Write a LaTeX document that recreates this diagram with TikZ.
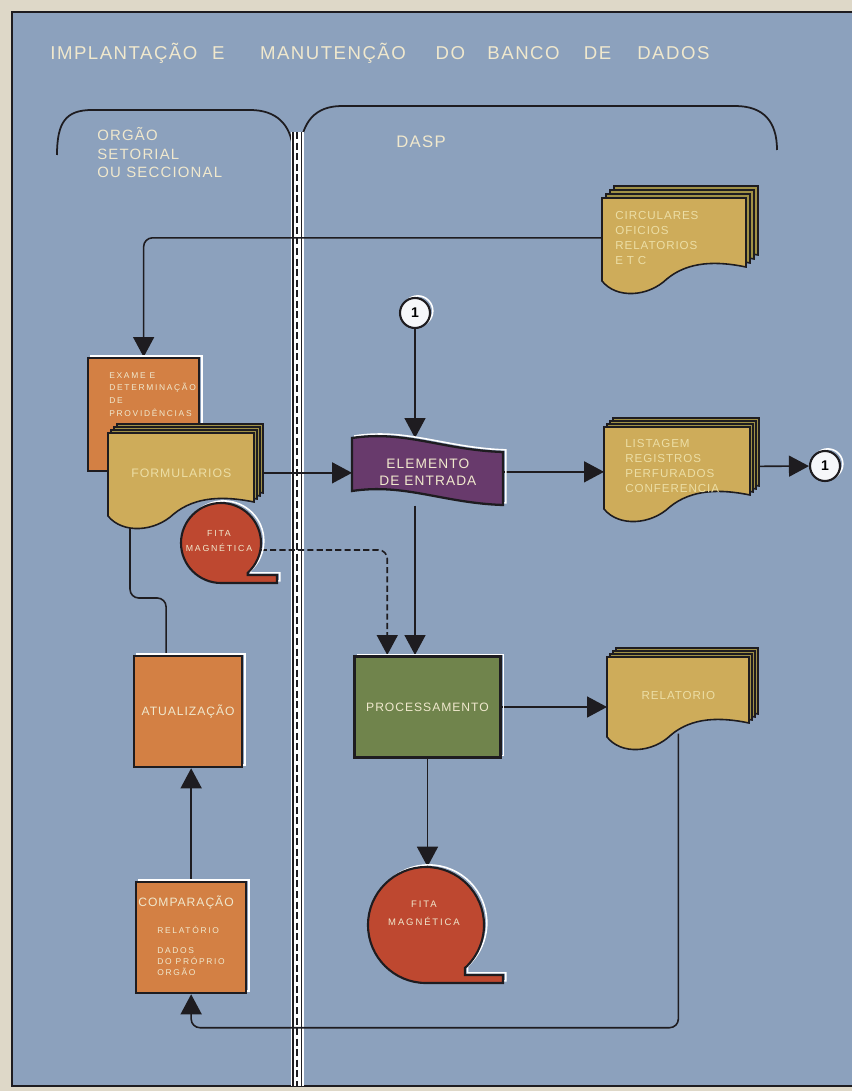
\documentclass[tikz,border=0pt]{standalone}
\usepackage{fontspec}
\setmainfont{Liberation Sans}
\newfontfamily\capfont[LetterSpace=8]{Liberation Sans}
\newfontfamily\widefont[LetterSpace=20]{Liberation Sans}
\usetikzlibrary{arrows.meta}
\usetikzlibrary{calc}
\usetikzlibrary{positioning}
\tikzset{>={Triangle[length=0.4cm,width=0.42cm]}}
\definecolor{paper}{RGB}{222,216,200}
\definecolor{panel}{RGB}{140,161,189}
\definecolor{ink}{RGB}{30,28,32}
\definecolor{cream}{RGB}{240,232,205}
\definecolor{doctext}{RGB}{236,222,165}
\definecolor{docfront}{RGB}{206,172,90}
\definecolor{docback}{RGB}{160,145,70}
\definecolor{boxorange}{RGB}{211,128,68}
\definecolor{procgreen}{RGB}{112,132,76}
\definecolor{entrypurple}{RGB}{104,58,108}
\definecolor{tapered}{RGB}{190,72,48}
\newcommand\pix{0.02cm}
\pgfdeclarelayer{panel}
\pgfdeclarelayer{wires}
\pgfsetlayers{panel,wires,main}
\tikzset{
  halo/.style={preaction={draw=white,line width=0.9pt,transform canvas={shift={(1.6pt,1.2pt)}}}},
  shapeline/.style={draw=ink,line width=1pt,halo},
  docline/.style={draw=ink,line width=0.9pt},
  flow/.style={draw=ink,line width=0.9pt,rounded corners=5pt},
  docnode/.style 2 args={minimum width=#1*\pix,minimum height=#2*\pix,inner sep=0pt,anchor=north west},
  doclabel/.style={text=doctext,font=\capfont\fontsize{6.6}{8.5}\selectfont,align=left},
  procbox/.style 2 args={shapeline,line width=1.3pt,minimum width=#1*\pix,minimum height=#2*\pix,
                         inner sep=0pt,anchor=north west,text=cream,font=\capfont\fontsize{6.9}{8}\selectfont},
  tapenode/.style={circle,minimum size=#1*\pix,inner sep=0pt},
  tapetext/.style={text=cream,align=center,inner sep=0pt,font=\widefont\fontsize{5}{9}\selectfont},
  onecirc/.style={circle,draw=ink,fill=white!92!panel,line width=1.2pt,minimum size=0.6cm,
                  inner sep=0pt,font=\bfseries\fontsize{8}{8}\selectfont,halo}
}
% document with wavy bottom: x, y, width, right height, fill
\newcommand\docshape[5]{
  \filldraw[docline,fill=#5] ({#1},{#2}) -- ({#1+#3},{#2}) -- ({#1+#3},{#2+#4})
    .. controls ({#1+0.8*#3},{#2+#4-6}) and ({#1+0.6*#3},{#2+#4-6}) .. ({#1+0.45*#3},{#2+#4+12})
    .. controls ({#1+0.32*#3},{#2+#4+30}) and ({#1+0.1*#3},{#2+#4+32}) .. ({#1},{#2+#4+14}) -- cycle;
}
% stack of three pages behind the front one: x, y, width, right height, step
\newcommand\docstack[5]{
  \foreach \k in {3,2,1}{\docshape{#1+#5*\k}{#2-#5*\k}{#3}{#4}{docback}}
  \docshape{#1}{#2}{#3}{#4}{docfront}
}
% punched tape: x, y, width, left height
\newcommand\tapeflag[4]{
  \filldraw[shapeline,line width=1.3pt,fill=entrypurple] ({#1},{#2})
    .. controls ({#1+0.35*#3},{#2-8}) and ({#1+0.6*#3},{#2+12}) .. ({#1+#3},{#2+14})
    -- ({#1+#3},{#2+14+#4})
    .. controls ({#1+0.6*#3},{#2+12+#4}) and ({#1+0.35*#3},{#2-8+#4}) .. ({#1},{#2+#4}) -- cycle;
}
% magnetic tape reel: centre x, centre y, radius, tail end x
\newcommand\tapereel[4]{
  \filldraw[shapeline,line width=1.2pt,fill=tapered] ({#1},{#2+#3}) arc[start angle=90,end angle=408,radius=#3]
    -- ({#1+#3*cos(48)},{#2+#3-8}) -- ({#4},{#2+#3-8}) -- ({#4},{#2+#3}) -- cycle;
}

\begin{document}
\begin{tikzpicture}[x=0.02cm,y=-0.02cm]
  \useasboundingbox (0,0) rectangle (852,1091);

  % SHEET
  \begin{pgfonlayer}{panel}
    \fill[paper] (0,0) rectangle (852,1091);
    \fill[panel] (12,12) rectangle (852,1086);
    \draw[ink,line width=1.2pt] (852,12) -- (12,12) -- (12,1086) -- (852,1086);
    % brackets over the two columns
    \draw[ink,line width=1pt] (57,155) .. controls (57,122) and (66,110) .. (92,110) -- (250,110)
      .. controls (276,110) and (291,124) .. (293,150);
    \draw[ink,line width=1pt] (300,150) .. controls (302,122) and (315,106) .. (342,106) -- (735,106)
      .. controls (764,106) and (777,122) .. (777,150);
    % divider
    \fill[white] (291,132) rectangle (304,1086);
    \draw[ink,line width=0.8pt] (293,132) -- (293,1086) (301.5,132) -- (301.5,1086);
    \draw[ink,line width=0.9pt,dash pattern=on 4pt off 2pt] (297.2,132) -- (297.2,1086);
  \end{pgfonlayer}

  % TITLES
  \node[anchor=base west,text=cream,font=\capfont\fontsize{10.6}{12}\selectfont,inner sep=0pt] (title) at (50,60)
    {IMPLANTAÇÃO\hspace{0.8em}E\hspace{1.9em}MANUTENÇÃO\hspace{1.6em}DO\hspace{1.2em}BANCO\hspace{1.3em}DE\hspace{1.4em}DADOS};
  \node[anchor=base west,align=left,text=cream,font=\capfont\fontsize{8.5}{10.8}\selectfont,inner sep=0pt] (orgao) at (97,178)
    {ORGÃO\\SETORIAL\\OU SECCIONAL};
  \node[anchor=base west,text=cream,font=\capfont\fontsize{9.5}{10}\selectfont,inner sep=0pt] (dasp) at (396,148) {DASP};

  % DOCUMENTS
  \docstack{602}{198}{144}{69}{4}
  \node[docnode={144}{79},doclabel,text width=2.36cm] (circ) at (602,198)
    {CIRCULARES\\OFICIOS\\RELATORIOS\\E T C};

  \node[procbox={111}{113},fill=boxorange] (exame) at (87,357) {};
  \node[anchor=base west,align=left,text=cream,inner sep=0pt,font=\widefont\fontsize{4.8}{7.2}\selectfont] (exame-text)
    at (109,416) {EXAME E\\DETERMINAÇÃO\\DE\\PROVIDÊNCIAS};

  \docstack{108}{433}{146}{69}{3}
  \node[docnode={146}{79},doclabel,font=\capfont\fontsize{7}{8.5}\selectfont] (form) at (108,433) {FORMULARIOS};

  \tapereel{221}{543}{40}{277}
  \node[tapenode=80] (fita-s) at (221,543) {};
  \node[tapetext] (fita-s-text) at (219,541) {FITA\\MAGNÉTICA};

  \tapeflag{352}{438}{151}{53}
  \node[docnode={151}{67},align=center,text=cream,font=\capfont\fontsize{7.8}{9.6}\selectfont] (entrada) at (352,438)
    {ELEMENTO\\DE ENTRADA};

  \docstack{604}{427}{146}{68}{3}
  \node[docnode={146}{78},doclabel,text width=2.08cm] (list) at (604,427)
    {LISTAGEM\\REGISTROS\\PERFURADOS\\CONFERENCIA};

  \node[onecirc] (one-a) at (415,313) {1};
  \node[onecirc] (one-b) at (825,466) {1};

  % PROCESSING
  \node[procbox={146}{101},fill=procgreen,line width=1.7pt] (proc) at (353,655) {PROCESSAMENTO};

  \docstack{607}{657}{142}{66}{3}
  \node[docnode={142}{76},doclabel] (rel) at (607,657) {RELATORIO};

  \tapereel{426}{925}{58}{503}
  \node[tapenode=116] (fita-b) at (426,925) {};
  \node[tapetext,font=\widefont\fontsize{5.4}{10}\selectfont] (fita-b-text) at (424,913) {FITA\\MAGNÉTICA};

  % UPDATE
  \node[procbox={108}{111},fill=boxorange] (atual) at (133,655) {ATUALIZAÇÃO};
  \node[procbox={110}{111},fill=boxorange] (comp) at (135,881) {};
  \node[anchor=base west,text=cream,inner sep=0pt,font=\capfont\fontsize{6.9}{8}\selectfont] (comp-title)
    at (138,906) {COMPARAÇÃO};
  \node[anchor=base west,align=left,text=cream,inner sep=0pt,font=\widefont\fontsize{4.8}{6.2}\selectfont] (comp-items)
    at (157,975) {RELATÓRIO\\[5pt]DADOS\\DO PRÓPRIO\\ORGÃO};

  % LINES
  \begin{pgfonlayer}{wires}
    \draw[flow,->] (circ.west) -| (exame.north);
    \draw[flow,->] (form.east) -- (form.east -| entrada.west);
    \draw[flow,->] (entrada.east) -- (entrada.east -| list.west);
    \draw[flow,->] (list.east) -- (one-b);
    \draw[flow,->] (one-a) -- (one-a |- entrada.north);
    \draw[flow,->] (entrada.south -| one-a) -- (proc.north -| one-a);
    \draw[flow,dash pattern=on 3.5pt off 1.8pt,->] (fita-s.-10) -| ($(proc.north west)!0.23!(proc.north east)$);
    \draw[flow,->] (proc.east) -- (proc.east -| rel.west);
    \draw[flow,->] (proc.south) -- (proc.south |- fita-b.north);
    \draw[flow,->] (rel.south) -- ++(0,294) -| (comp.south);
    \draw[flow,->] (comp.north) -- (comp.north |- atual.south);
    \draw[flow] ($(atual.north west)!0.3!(atual.north east)$) -- ++(0,-57) -| ($(form.south west)+(22,0)$);
  \end{pgfonlayer}
\end{tikzpicture}
\end{document}
